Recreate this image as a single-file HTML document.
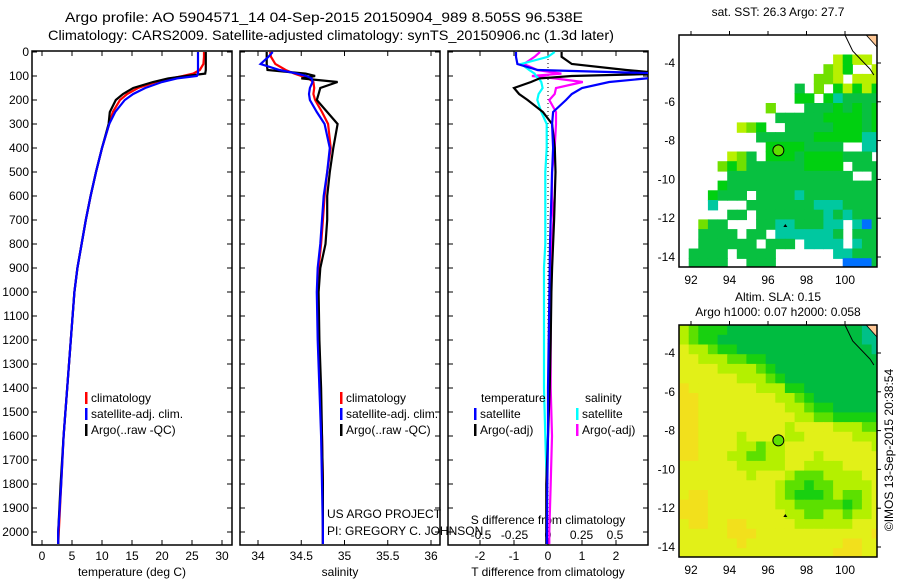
<!DOCTYPE html>
<html><head><meta charset="utf-8"><style>
body{margin:0;background:#fff;}
svg{display:block;font-family:"Liberation Sans",sans-serif;}
</style></head><body>
<svg id="c" width="900" height="580" viewBox="0 0 900 580" xmlns="http://www.w3.org/2000/svg">
<defs>
<clipPath id="cp1"><rect x="32" y="51" width="200" height="494"/></clipPath>
<clipPath id="cp2"><rect x="240" y="51" width="200" height="494"/></clipPath>
<clipPath id="cp3"><rect x="448" y="51" width="200" height="494"/></clipPath>
<clipPath id="cm1"><rect x="679" y="35" width="198" height="232"/></clipPath>
<clipPath id="cm2"><rect x="679" y="325" width="198" height="232"/></clipPath>
</defs>
<text x="65" y="22" font-size="14" textLength="518" lengthAdjust="spacingAndGlyphs">Argo profile: AO 5904571_14 04-Sep-2015 20150904_989 8.505S 96.538E</text>
<text x="48" y="40" font-size="14" textLength="566" lengthAdjust="spacingAndGlyphs">Climatology: CARS2009. Satellite-adjusted climatology: synTS_20150906.nc (1.3d later)</text>
<text x="132" y="576" font-size="12" text-anchor="middle">temperature (deg C)</text>
<text x="340" y="576" font-size="12" text-anchor="middle">salinity</text>
<text x="548" y="576" font-size="12" text-anchor="middle">T difference from climatology</text>
<text x="548" y="524" font-size="12" text-anchor="middle">S difference from climatology</text>
<text x="327" y="518" font-size="12">US ARGO PROJECT</text>
<text x="327" y="535" font-size="12">PI: GREGORY C. JOHNSON</text>
<text x="778" y="16" font-size="12" text-anchor="middle">sat. SST: 26.3 Argo: 27.7</text>
<text x="778" y="301" font-size="12" text-anchor="middle">Altim. SLA: 0.15</text>
<text x="778" y="316" font-size="12" text-anchor="middle">Argo h1000: 0.07 h2000: 0.058</text>
<text transform="translate(893,450) rotate(-90)" font-size="12" text-anchor="middle">©IMOS 13-Sep-2015 20:38:54</text>
</svg>
<script>
const depths=[0,20,50,75,90,100,110,125,150,175,200,250,300,400,500,600,700,800,900,1000,1200,1400,1600,1800,2000,2050];
const tClim=[27.0,27.0,26.9,26.3,25.2,23.5,21.5,19.0,16.0,14.2,13.0,11.8,11.2,10.0,9.0,8.1,7.3,6.6,5.9,5.4,4.8,4.2,3.6,3.2,2.8,2.7];
const tSat=[26.0,26.0,26.0,26.0,26.0,25.8,22.5,20.0,17.2,15.2,13.8,12.2,11.2,10.0,9.0,8.1,7.3,6.6,5.9,5.4,4.8,4.2,3.6,3.2,2.7,2.7];
const tArgo=[27.3,27.3,27.3,27.3,27.2,24.0,21.0,18.5,15.2,13.5,12.3,11.3,11.1,10.0,9.0,8.1,7.3,6.6,5.9,5.4,4.8,4.2,3.6,3.1,2.7,2.7];
const sClim=[34.14,34.15,34.2,34.32,34.42,34.5,34.58,34.64,34.65,34.64,34.66,34.74,34.81,34.84,34.8,34.77,34.75,34.73,34.7,34.69,34.7,34.72,34.74,34.75,34.75,34.75];
const sSat=[34.17,34.12,34.03,34.25,34.45,34.56,34.62,34.63,34.6,34.59,34.6,34.68,34.77,34.83,34.8,34.76,34.74,34.72,34.69,34.68,34.69,34.71,34.73,34.74,34.75,34.75];
const sArgo=[34.10,34.10,34.10,34.11,34.55,34.66,34.50,34.92,34.72,34.70,34.68,34.80,34.92,34.87,34.83,34.80,34.80,34.78,34.72,34.70,34.71,34.73,34.74,34.75,34.75,34.75];
const dtSat=[-0.94,-0.94,-0.9,-0.3,3.5,3.5,2.9,1.8,1.0,0.7,0.53,0.15,0.12,0.15,0.12,0.1,0.08,0.06,0.05,0.04,0.02,0.0,0.0,-0.02,-0.03,-0.03];
const dtArgo=[0.4,0.4,0.7,2.3,3.5,0.7,-0.25,-0.5,-1.0,-0.85,-0.6,-0.15,0.12,0.2,0.22,0.2,0.18,0.15,0.12,0.1,0.08,0.05,0.0,-0.05,-0.05,-0.05];
const dsSat=[0.05,0.0,-0.2,-0.14,-0.1,-0.09,-0.07,-0.05,-0.04,-0.07,-0.08,-0.05,-0.01,-0.01,-0.02,-0.02,-0.02,-0.02,-0.03,-0.03,-0.03,-0.03,-0.02,-0.01,-0.01,-0.01];
const dsArgo=[-0.06,-0.1,-0.18,-0.08,0.1,-0.12,0.05,0.26,0.06,0.05,0.01,0.06,0.06,0.05,0.03,0.03,0.04,0.03,0.02,0.02,0.02,0.02,0.03,0.02,0.01,0.01];
const depthTicks=[0,100,200,300,400,500,600,700,800,900,1000,1100,1200,1300,1400,1500,1600,1700,1800,1900,2000];
const tTicks=[0,5,10,15,20,25,30];
const sTicks=[34,34.5,35,35.5,36];
const dtTicks=[-2,-1,0,1,2];
const dsTicks=[-0.5,-0.25,0,0.25,0.5];
const lonTicks=[92,94,96,98,100];
const latTicks=[-4,-6,-8,-10,-12,-14];
const sstGrid=[
".....................",
".....................",
"................ygyy.",
"...............lyg..y",
"..............lly.yyy",
"............d.l.gygyg",
"............gg.gtdddd",
".........l...dddgdgdg",
"..........dddddggggdg",
"......ylg..dddddgggdg",
"........ddddddgggggtt",
".........ggggdddd..tt",
".....yld.gggdggggddd.",
"....lglddddddgggg.ddd",
".....ddddddddddddd..d",
"....gdddddddddddddddd",
"...gddd.ddddtdddddddd",
"...t...dddddddtttdddd",
".....dd.dddddddtdtddd",
"..ldd...ddttdddtt.tbd",
"..dddd.dd.ttttttd.ddd",
"..dddddd.ddd.tttt.tdd",
".dddd.dddd......ttddd",
".dddd..ddd.......bbbd"];
const slaGrid=[
"lGgggddddddddddddddtt",
"lGggdddddddddddddddtt",
"yllGggddddddddddddddt",
"yylllGGggdddddddddddd",
"yyyyllllGgddddddddddd",
"yyyyyylllGgdddddddddd",
"Yyyyyyyylllggdddddddd",
"YYyyyyyyyyllGgddddddd",
"YYyyyyyyyyyllGggddddd",
"YYyyyyyyyyyyllGGggggg",
"YYyyyyyyyyylyyyylllGG",
"YYyyyylyyyyllyyyyylll",
"YYyyyyllGllyyyyyyyyyl",
"YYyyyllGGllyyylyyyyyy",
"yyyyyylllllyyllllyyyy",
"yyyyyyylyyylGGGllllyy",
"yyyyyyyyyylGGgGGlllly",
"yYYyyyyyyylGgggGlGGly",
"YYYyyyyyyyllGGGGGgGly",
"YYYyyyyyyyyllGGllGlly",
"yYYyyYYyyyyyllllllyyy",
"yyyyyYYYyyyyyyyyyyyyY",
"yyyyyyYyyyyyyyyyyYYyy",
"yyyyyyyyyyyyyyyyYYYyy"];
const argoLon=96.538, argoLat=-8.505;

const NS='http://www.w3.org/2000/svg';
const svg=document.getElementById('c');
function mk(tag,attrs,parent,name,inter){
  const el=document.createElementNS(NS,tag);
  for(const k in attrs) el.setAttribute(k,attrs[k]);
  
  
  (parent||svg).appendChild(el);
  return el;
}
function txt(x,y,s,anchor,name,size){
  const t=mk('text',{x:x,y:y,'font-size':size||12,'text-anchor':anchor||'middle'},svg,name,false);
  t.textContent=s;return t;
}
const yD=d=>52+d*0.24;
const xT=t=>42+t*6;
const xS=s=>258+(s-34)*86.5;
const xTd=v=>548+v*34;
const xSd=v=>548+v*134;
const panels=[32,240,448];
panels.forEach((px,i)=>{
  mk('rect',{x:px,y:51,width:200,height:494,fill:'none',stroke:'#000','stroke-width':1.5},svg,'panel-frame-'+(i+1),false);
  depthTicks.forEach(d=>{
    mk('line',{x1:px,x2:px+5,y1:yD(d),y2:yD(d),stroke:'#000'},svg,'y-tick',false);
    mk('line',{x1:px+195,x2:px+200,y1:yD(d),y2:yD(d),stroke:'#000'},svg,'y-tick',false);
  });
});
depthTicks.forEach(d=>txt(29,yD(d)+4,String(d),'end','depth-tick-label'));
function xticks(ticks,f,name){
  ticks.forEach(v=>{
    const x=f(v);
    mk('line',{x1:x,x2:x,y1:51,y2:56,stroke:'#000'},svg,name+'-tick',false);
    mk('line',{x1:x,x2:x,y1:540,y2:545,stroke:'#000'},svg,name+'-tick',false);
    txt(x,560,String(v),'middle',name+'-tick-label');
  });
}
xticks(tTicks,xT,'temperature');
xticks(sTicks,xS,'salinity');
xticks(dtTicks,xTd,'t-diff');
dsTicks.forEach(v=>txt(xSd(v),539,String(v),'middle','s-diff-tick-label'));
mk('line',{x1:548,x2:548,y1:51,y2:545,stroke:'#000','stroke-dasharray':'1,3'},svg,'zero-line',false);
function line(xs,f,color,clip,name,w){
  const pts=xs.map((v,i)=>f(v).toFixed(1)+','+yD(depths[i]).toFixed(1)).join(' ');
  mk('polyline',{points:pts,fill:'none',stroke:color,'stroke-width':w||2.2,'clip-path':'url(#'+clip+')'},svg,name,false);
}
line(tClim,xT,'#f00','cp1','temp-climatology-line');
line(tArgo,xT,'#000','cp1','temp-argo-line');
line(tSat,xT,'#00f','cp1','temp-satellite-line');
line(sClim,xS,'#f00','cp2','sal-climatology-line');
line(sArgo,xS,'#000','cp2','sal-argo-line');
line(sSat,xS,'#00f','cp2','sal-satellite-line');
line(dsArgo,xSd,'#f0f','cp3','sdiff-argo-line');
line(dsSat,xSd,'#0ff','cp3','sdiff-satellite-line');
line(dtArgo,xTd,'#000','cp3','tdiff-argo-line');
line(dtSat,xTd,'#00f','cp3','tdiff-satellite-line');
function leg(x,y,color,label,name){
  mk('rect',{x:x,y:y-10,width:2.5,height:12,fill:color},svg,name+'-marker',false);
  txt(x+6,y,label,'start',name);
}
leg(85,402,'#f00','climatology','legend-climatology');
leg(85,418,'#00f','satellite-adj. clim.','legend-satellite');
leg(85,434,'#000','Argo(..raw -QC)','legend-argo');
leg(340,402,'#f00','climatology','legend2-climatology');
leg(340,418,'#00f','satellite-adj. clim.','legend2-satellite');
leg(340,434,'#000','Argo(..raw -QC)','legend2-argo');
txt(481,402,'temperature','start','legend-temperature-header');
txt(585,402,'salinity','start','legend-salinity-header');
leg(474,418,'#00f','satellite','legend-tdiff-satellite');
leg(474,434,'#000','Argo(-adj)','legend-tdiff-argo');
leg(576,418,'#0ff','satellite','legend-sdiff-satellite');
leg(576,434,'#f0f','Argo(-adj)','legend-sdiff-argo');
const sstCol={g:'#00d010',d:'#08c040',t:'#00c8a0',y:'#b8f000',l:'#70e000',b:'#0070ff'};
const slaCol={Y:'#f2e01c',y:'#e2f018',l:'#b4f000',G:'#5ce000',g:'#18d010',d:'#00bc40',t:'#00c088'};
function mapDraw(top,grid,cols,clip,name){
  const lonX=lo=>691+(lo-92)*19.25;
  const latY=la=>top+28+(-4-la)*19.4;
  const g=mk('g',{'clip-path':'url(#'+clip+')'},svg,name+'-cells',false);
  grid.forEach((row,r)=>{
    for(let c=0;c<row.length;c++){
      const k=row[c];if(!cols[k])continue;
      const lo=91.38+c*0.5, la=-2.56-r*0.5;
      mk('rect',{x:lonX(lo).toFixed(1),y:latY(la).toFixed(1),width:10.2,height:10.4,fill:cols[k]},g,name+'-cell',false);
    }
  });
  mk('path',{d:`M${lonX(101.1)} ${top} L877 ${top} L877 ${top+12} Z`,fill:'#ffc896',stroke:'#000','stroke-width':0.8},svg,name+'-land',false);
  mk('path',{d:`M${lonX(100)} ${top} L${lonX(100.4)} ${top+16} L${lonX(101.3)} ${top+34} L${lonX(101.5)} ${top+40}`,fill:'none',stroke:'#000','stroke-width':1},svg,name+'-coast',false);
  mk('circle',{cx:lonX(argoLon),cy:latY(argoLat),r:5.5,fill:'#60e000',stroke:'#000','stroke-width':1},svg,name+'-argo-marker',false);
  mk('path',{d:`M${lonX(96.9)} ${latY(-12.3)} l-2 3 l4 0 Z`,fill:'#000'},svg,name+'-triangle',false);
  mk('rect',{x:679,y:top,width:198,height:232,fill:'none',stroke:'#000','stroke-width':1.5},svg,name+'-frame',false);
  lonTicks.forEach(lo=>{
    const x=lonX(lo);
    mk('line',{x1:x,x2:x,y1:top-4,y2:top,stroke:'#000'},svg,name+'-x-tick',false);
    txt(x,top+249,String(lo),'middle',name+'-lon-label');
  });
  latTicks.forEach(la=>{
    const y=latY(la);
    mk('line',{x1:877,x2:881,y1:y,y2:y,stroke:'#000'},svg,name+'-y-tick',false);
    txt(675,y+4,String(la),'end',name+'-lat-label');
  });
}
mapDraw(35,sstGrid,sstCol,'cm1','sst-map');
mapDraw(325,slaGrid,slaCol,'cm2','sla-map');
</script>
</body></html>
